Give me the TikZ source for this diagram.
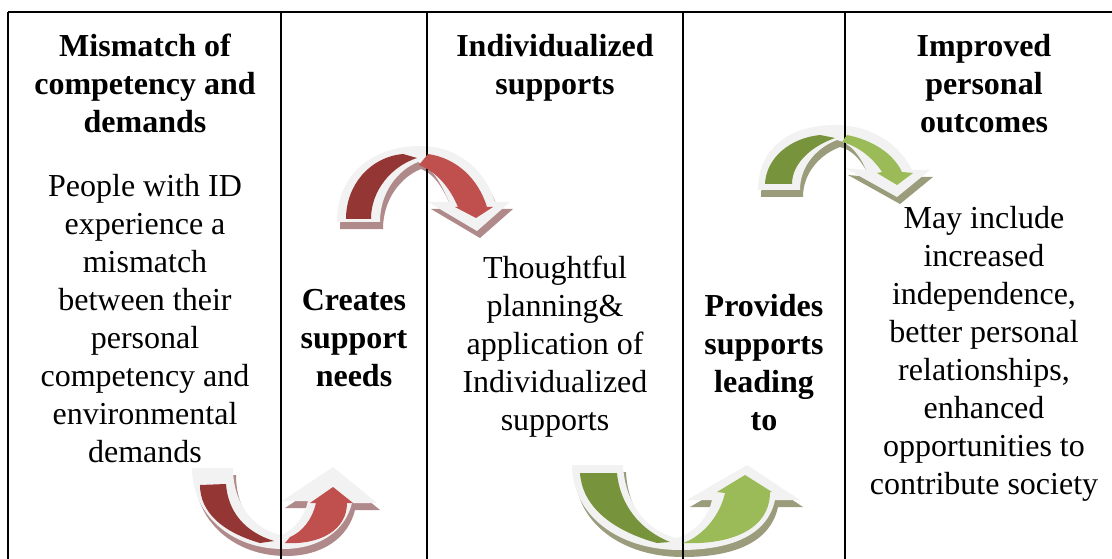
\documentclass[tikz,border=0pt]{standalone}
\usepackage{fontspec}
\setmainfont{Liberation Serif}

\definecolor{redback}{HTML}{943634}
\definecolor{redfront}{HTML}{C0504D}
\definecolor{greenback}{HTML}{77933C}
\definecolor{greenfront}{HTML}{9BBB59}
\definecolor{glowgray}{HTML}{F2F2F2}
\definecolor{redshade}{HTML}{B08A8A}
\definecolor{greenshade}{HTML}{9A9C7C}

% outlines of the four curved arrows (pixel grid, y downwards)
\newcommand{\glowTopRed}{(337,222) .. controls (337,172) and (375,146) .. (420,146)
  .. controls (458,146) and (485,170) .. (495,202) -- (510,202) -- (477,231)
  -- (428,202) -- (449,202) .. controls (441,183) and (432,167) .. (418,162)
  .. controls (398,170) and (380,192) .. (380,222) -- cycle}
\newcommand{\glowTopGreen}{(758,190) .. controls (758,148) and (790,125) .. (835,125)
  .. controls (872,125) and (900,145) .. (912,170) -- (930,170) -- (897,197)
  -- (845,168) -- (866,170) .. controls (860,155) and (850,143) .. (837,140)
  .. controls (818,147) and (800,165) .. (800,190) -- cycle}
\newcommand{\glowBotRed}{(192,468) -- (233,468) .. controls (233,505) and (255,530) .. (281,535)
  .. controls (295,530) and (305,515) .. (308,501) -- (282,501) -- (333,467)
  -- (377,503) -- (352,503) .. controls (345,532) and (318,549) .. (283,549)
  .. controls (232,549) and (192,515) .. (192,468) -- cycle}
\newcommand{\glowBotGreen}{(572,465) -- (623,465) .. controls (625,505) and (648,532) .. (677,538)
  .. controls (695,532) and (708,518) .. (712,500) -- (687,500) -- (747,465)
  -- (800,500) -- (775,500) .. controls (768,533) and (735,550) .. (680,550)
  .. controls (618,550) and (572,515) .. (572,465) -- cycle}

\begin{document}
\begin{tikzpicture}
    [
      x=1pt,y=-1pt,
      cell/.style={anchor=base,align=center,inner sep=0pt,font=\fontsize{32}{38}\selectfont},
      head/.style={cell,font=\fontsize{32}{38}\selectfont\bfseries},
      rule/.style={line width=2pt},
      glow/.style={fill=glowgray},
      shade/.style={shift={(3,7)}},
    ]

    \useasboundingbox (0,0) rectangle (1112,559);

    % shadows and light rims of the arrows
    \fill [shade,redshade] \glowTopRed;
    \fill [shade,redshade] \glowBotRed;
    \fill [shade,greenshade] \glowTopGreen;
    \fill [shade,greenshade] \glowBotGreen;
    \fill [glow] \glowTopRed;
    \fill [glow] \glowBotRed;
    \fill [glow] \glowTopGreen;
    \fill [glow] \glowBotGreen;

    % table rules
    \draw [rule] (8,12) -- (1112,12);
    \foreach \x in {8,281,427,683,845}
      \draw [rule] (\x,12) -- (\x,559);

    % coloured faces of the arrows
    \fill [redback] (346,219) .. controls (346,185) and (370,157) .. (403,154) -- (417,158)
      .. controls (392,166) and (371,190) .. (371,219) -- cycle;
    \fill [redfront] (428,154) .. controls (456,158) and (478,178) .. (487,207) -- (493,207)
      -- (476,218) -- (455,207) -- (458,207) .. controls (450,188) and (437,172) .. (419,165) -- cycle;
    \fill [redback] (200,485) -- (226,484) .. controls (228,512) and (245,532) .. (274,541)
      -- (260,543) .. controls (222,532) and (200,512) .. (200,485) -- cycle;
    \fill [redfront] (285,543) .. controls (320,545) and (347,530) .. (347,503) -- (353,503)
      -- (333,487) -- (310,503) -- (316,503) .. controls (312,520) and (302,532) .. (290,537) -- cycle;
    \fill [greenback] (765,184) .. controls (766,158) and (790,138) .. (820,135) -- (835,138)
      .. controls (812,146) and (792,163) .. (792,184) -- cycle;
    \fill [greenfront] (847,135) .. controls (872,140) and (893,153) .. (902,172) -- (913,173)
      -- (897,185) -- (877,173) -- (882,172) .. controls (873,158) and (858,146) .. (842,142) -- cycle;
    \fill [greenback] (580,473) -- (617,473) .. controls (620,505) and (640,530) .. (670,542)
      -- (657,543) .. controls (610,530) and (582,505) .. (580,473) -- cycle;
    \fill [greenfront] (683,543) .. controls (730,545) and (770,530) .. (770,492) -- (772,492)
      -- (745,475) -- (717,492) -- (725,493) .. controls (720,515) and (705,532) .. (690,540) -- cycle;

    % texts (base = baseline of the last line)
    \node (mismatch-head) [head] at (145,133) {Mismatch of\\competency and\\demands};
    \node (mismatch-text) [cell] at (145,462) {People with ID\\experience a\\mismatch\\between their\\personal\\competency and\\environmental\\demands};
    \node (creates) [head] at (354,386) {Creates\\support\\needs};
    \node (supports-head) [head] at (555,95) {Individualized\\supports};
    \node (supports-text) [cell] at (555,430) {Thoughtful\\planning\&\\application of\\Individualized\\supports};
    \node (provides) [head] at (764,430) {Provides\\supports\\leading\\to};
    \node (outcomes-head) [head] at (984,133) {Improved\\personal\\outcomes};
    \node (outcomes-text) [cell] at (984,494) {May include\\increased\\independence,\\better personal\\relationships,\\enhanced\\opportunities to\\contribute society};

  \end{tikzpicture}
\end{document}
